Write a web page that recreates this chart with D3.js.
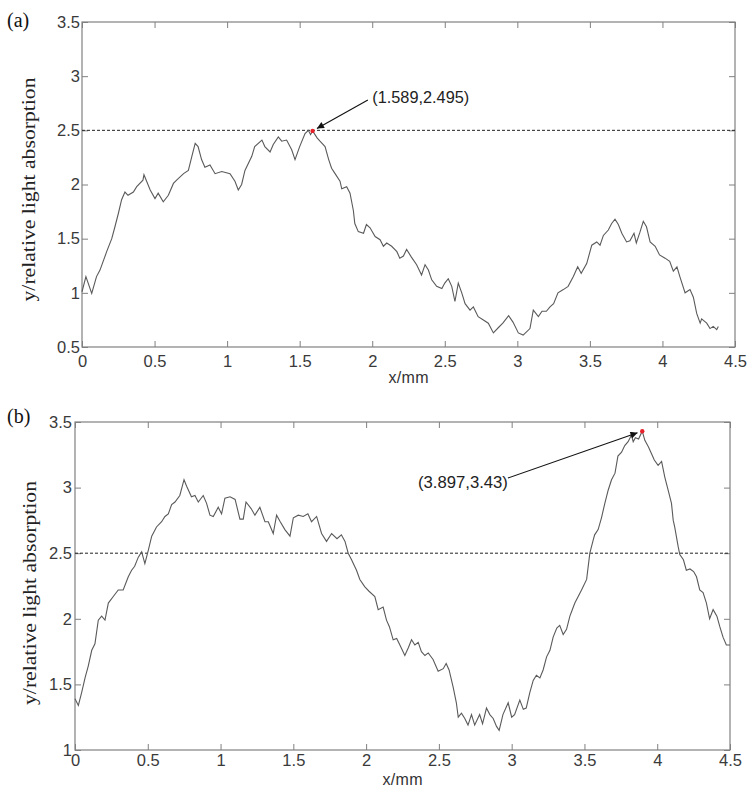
<!DOCTYPE html>
<html>
<head>
<meta charset="utf-8">
<script src="https://cdn.jsdelivr.net/npm/d3@7"></script>
<style>
  body { margin: 0; background: #fff; }
  svg { display: block; }
  .tick text { font-family: "Liberation Sans", Arial, sans-serif; font-size: 16.5px; fill: #3a3a3a; }
</style>
</head>
<body>
<div id="chart-area"></div>
<script>
// DATA
const xA = [0, 0.027, 0.067, 0.10, 0.124, 0.17, 0.205, 0.227, 0.25, 0.273, 0.296, 0.317, 0.354, 0.377, 0.42, 0.427,
  0.47, 0.503, 0.525, 0.56, 0.595, 0.63, 0.652, 0.70, 0.733, 0.757, 0.78, 0.80, 0.824, 0.847, 0.882, 0.917,
  0.963, 1.02, 1.054, 1.077, 1.10, 1.123, 1.17, 1.19, 1.24, 1.26, 1.296, 1.318, 1.353, 1.376, 1.41, 1.445,
  1.468, 1.50, 1.537, 1.56, 1.575, 1.589, 1.62, 1.64, 1.675, 1.70, 1.72, 1.744, 1.778, 1.79, 1.824, 1.847,
  1.87, 1.88, 1.904, 1.94, 1.96, 1.985, 2.02, 2.054, 2.077, 2.10, 2.134, 2.17, 2.19, 2.215, 2.237, 2.27,
  2.306, 2.34, 2.364, 2.387, 2.41, 2.444, 2.48, 2.50, 2.524, 2.548, 2.57, 2.593, 2.617, 2.64, 2.674, 2.697,
  2.73, 2.766, 2.80, 2.835, 2.87, 2.90, 2.94, 2.97, 3.007, 3.04, 3.087, 3.11, 3.145, 3.17, 3.20, 3.225,
  3.25, 3.28, 3.317, 3.35, 3.386, 3.416, 3.44, 3.478, 3.513, 3.547, 3.57, 3.593, 3.627, 3.65, 3.673, 3.696,
  3.72, 3.753, 3.776, 3.804, 3.82, 3.845, 3.868, 3.89, 3.915, 3.95, 3.98, 4.018, 4.05, 4.075, 4.10, 4.12,
  4.156, 4.19, 4.213, 4.236, 4.26, 4.27, 4.305, 4.328, 4.35, 4.374, 4.385]
const yA = [1.01, 1.15, 0.995, 1.15, 1.21, 1.38, 1.50, 1.61, 1.73, 1.86, 1.93, 1.90, 1.93, 1.98, 2.04, 2.09,
  1.95, 1.87, 1.92, 1.84, 1.90, 2.01, 2.04, 2.10, 2.13, 2.26, 2.38, 2.35, 2.23, 2.16, 2.18, 2.10,
  2.12, 2.10, 2.03, 1.95, 2.00, 2.13, 2.26, 2.35, 2.41, 2.35, 2.30, 2.37, 2.44, 2.40, 2.41, 2.32,
  2.23, 2.35, 2.47, 2.50, 2.46, 2.495, 2.43, 2.40, 2.35, 2.23, 2.15, 2.10, 2.03, 1.96, 1.98, 1.92,
  1.76, 1.64, 1.565, 1.55, 1.63, 1.60, 1.52, 1.49, 1.43, 1.46, 1.43, 1.38, 1.32, 1.34, 1.40, 1.33,
  1.26, 1.165, 1.26, 1.21, 1.12, 1.06, 1.04, 1.09, 1.13, 1.06, 0.92, 1.09, 1.00, 0.90, 0.84, 0.87,
  0.78, 0.75, 0.72, 0.63, 0.68, 0.72, 0.79, 0.73, 0.63, 0.61, 0.67, 0.84, 0.78, 0.83, 0.83, 0.87,
  0.90, 1.00, 1.03, 1.06, 1.15, 1.24, 1.18, 1.27, 1.44, 1.47, 1.44, 1.53, 1.58, 1.64, 1.68, 1.63,
  1.55, 1.47, 1.48, 1.55, 1.46, 1.56, 1.66, 1.61, 1.47, 1.43, 1.35, 1.32, 1.29, 1.20, 1.24, 1.15,
  1.00, 1.03, 0.96, 0.81, 0.72, 0.76, 0.72, 0.67, 0.69, 0.66, 0.69]

const xB = [0, 0.023, 0.046, 0.069, 0.091, 0.115, 0.137, 0.16, 0.183, 0.206, 0.229, 0.263, 0.297, 0.331, 0.366, 0.389,
  0.41, 0.435, 0.458, 0.48, 0.503, 0.527, 0.56, 0.595, 0.618, 0.641, 0.664, 0.687, 0.72, 0.749, 0.767, 0.80,
  0.824, 0.847, 0.881, 0.904, 0.927, 0.95, 0.984, 1.007, 1.03, 1.065, 1.10, 1.133, 1.156, 1.175, 1.21, 1.236,
  1.27, 1.305, 1.328, 1.362, 1.385, 1.41, 1.442, 1.477, 1.50, 1.534, 1.568, 1.60, 1.625, 1.66, 1.694, 1.728,
  1.763, 1.80, 1.83, 1.855, 1.877, 1.90, 1.934, 1.957, 1.99, 2.02, 2.06, 2.083, 2.117, 2.14, 2.16, 2.186,
  2.21, 2.232, 2.266, 2.29, 2.312, 2.335, 2.358, 2.38, 2.404, 2.427, 2.46, 2.495, 2.53, 2.55, 2.57, 2.598,
  2.62, 2.633, 2.655, 2.678, 2.70, 2.724, 2.746, 2.78, 2.80, 2.827, 2.85, 2.873, 2.896, 2.914, 2.94, 2.976,
  3.0, 3.02, 3.056, 3.08, 3.10, 3.125, 3.148, 3.17, 3.194, 3.216, 3.24, 3.263, 3.285, 3.31, 3.33, 3.354,
  3.377, 3.40, 3.41, 3.434, 3.457, 3.48, 3.515, 3.537, 3.56, 3.57, 3.594, 3.617, 3.64, 3.663, 3.686, 3.71,
  3.73, 3.755, 3.777, 3.80, 3.823, 3.835, 3.85, 3.872, 3.897, 3.915, 3.94, 3.96, 3.98, 4.006, 4.03, 4.052,
  4.075, 4.098, 4.11, 4.12, 4.144, 4.155, 4.18, 4.20, 4.225, 4.25, 4.27, 4.292, 4.315, 4.338, 4.36, 4.384,
  4.41, 4.43, 4.452, 4.475, 4.5]
const yB = [1.39, 1.34, 1.44, 1.55, 1.64, 1.76, 1.81, 1.99, 2.02, 1.99, 2.12, 2.17, 2.22, 2.22, 2.32, 2.37,
  2.40, 2.47, 2.51, 2.42, 2.52, 2.63, 2.70, 2.74, 2.78, 2.80, 2.87, 2.89, 2.94, 3.06, 3.01, 2.93,
  2.94, 2.89, 2.94, 2.88, 2.79, 2.78, 2.85, 2.80, 2.92, 2.93, 2.91, 2.76, 2.76, 2.89, 2.84, 2.79,
  2.85, 2.74, 2.74, 2.65, 2.79, 2.74, 2.68, 2.63, 2.77, 2.79, 2.78, 2.80, 2.74, 2.78, 2.65, 2.59,
  2.65, 2.61, 2.64, 2.59, 2.50, 2.45, 2.37, 2.30, 2.245, 2.21, 2.17, 2.07, 2.09, 1.99, 1.94, 1.84,
  1.85, 1.80, 1.72, 1.78, 1.84, 1.80, 1.82, 1.75, 1.72, 1.74, 1.69, 1.60, 1.62, 1.66, 1.61, 1.48,
  1.36, 1.25, 1.28, 1.24, 1.19, 1.27, 1.19, 1.27, 1.20, 1.32, 1.27, 1.24, 1.18, 1.15, 1.27, 1.36,
  1.25, 1.27, 1.38, 1.31, 1.32, 1.44, 1.53, 1.57, 1.55, 1.61, 1.71, 1.76, 1.86, 1.93, 1.95, 1.88,
  1.92, 2.02, 2.05, 2.12, 2.17, 2.22, 2.30, 2.50, 2.60, 2.64, 2.68, 2.77, 2.88, 2.98, 3.06, 3.11,
  3.24, 3.27, 3.32, 3.35, 3.40, 3.35, 3.38, 3.37, 3.43, 3.36, 3.31, 3.26, 3.21, 3.17, 3.20, 3.08,
  2.98, 2.88, 2.75, 2.70, 2.55, 2.49, 2.45, 2.37, 2.38, 2.36, 2.32, 2.22, 2.20, 2.12, 2.00, 2.07,
  2.02, 1.94, 1.86, 1.80, 1.80]

const xTicks = [0, 0.5, 1, 1.5, 2, 2.5, 3, 3.5, 4, 4.5]
const yTicksA = [0.5, 1, 1.5, 2, 2.5, 3, 3.5]
const yTicksB = [1, 1.5, 2, 2.5, 3, 3.5]
const threshold = 2.5
const peakA = [1.589, 2.495]
const peakB = [3.897, 3.43]
const noteA = "(1.589,2.495)"
const noteB = "(3.897,3.43)"

const WIDTH = 754
const HEIGHT = 794

const svg = d3.select("#chart-area").append("svg")
  .attr("width", WIDTH)
  .attr("height", HEIGHT)

svg.append("defs").append("marker")
  .attr("id", "arrow")
  .attr("viewBox", "0 0 10 10")
  .attr("refX", 10).attr("refY", 5)
  .attr("markerWidth", 10).attr("markerHeight", 7)
  .attr("markerUnits", "userSpaceOnUse")
  .attr("orient", "auto")
  .append("path").attr("d", "M0,0 L10,5 L0,10 Z").attr("fill", "#111")

const panels = [
  { tag: "(a)", tagY: 27, left: 82, right: 735, top: 22, bottom: 347, yDomain: [0.5, 3.5], yTicks: yTicksA,
    xs: xA, ys: yA, peak: peakA, note: noteA, notePos: [2.0, 2.75], arrowFrom: [1.97, 2.78], noteWidth: 97,
    xPad: 8, yPad: 2, yLabelX: 35, yLabelShift: 5, xLabelY: 383 },
  { tag: "(b)", tagY: 423, left: 75, right: 730, top: 422, bottom: 750, yDomain: [1, 3.5], yTicks: yTicksB,
    xs: xB, ys: yB, peak: peakB, note: noteB, notePos: [2.356, 3.0], arrowFrom: [2.974, 3.073], noteWidth: 90,
    xPad: 4, yPad: 3, yLabelX: 36, yLabelShift: 7, xLabelY: 785 }
]

panels.forEach(p => {
  const w = p.right - p.left
  const h = p.bottom - p.top
  const g = svg.append("g").attr("transform", `translate(${p.left}, ${p.top})`)

  const xScale = d3.scaleLinear().domain([0, 4.5]).range([0, w])
  const yScale = d3.scaleLinear().domain(p.yDomain).range([h, 0])

  //AXES (MATLAB style: ticks inside, box on)
  const fmt = d => String(d)
  g.append("g").attr("transform", `translate(0, ${h})`)
    .call(d3.axisBottom(xScale).tickValues(xTicks).tickFormat(fmt).tickSizeInner(-6).tickSizeOuter(0).tickPadding(p.xPad))
  g.append("g")
    .call(d3.axisTop(xScale).tickValues(xTicks).tickFormat("").tickSizeInner(-6).tickSizeOuter(0))
  g.append("g")
    .call(d3.axisLeft(yScale).tickValues(p.yTicks).tickFormat(fmt).tickSizeInner(-6).tickSizeOuter(0).tickPadding(p.yPad))
  g.append("g").attr("transform", `translate(${w}, 0)`)
    .call(d3.axisRight(yScale).tickValues(p.yTicks).tickFormat("").tickSizeInner(-6).tickSizeOuter(0))
  g.selectAll(".domain").remove()
  g.selectAll(".tick line").attr("stroke", "#808080")

  g.append("rect")
    .attr("width", w).attr("height", h)
    .attr("fill", "none").attr("stroke", "#808080").attr("stroke-width", 1.2)

  //THRESHOLD
  g.append("line")
    .attr("x1", 0).attr("x2", w)
    .attr("y1", yScale(threshold)).attr("y2", yScale(threshold))
    .attr("stroke", "#222").attr("stroke-width", 1).attr("stroke-dasharray", "3,2")

  //CURVE
  const line = d3.line().x(i => xScale(p.xs[i])).y(i => yScale(p.ys[i]))
  g.append("path")
    .attr("d", line(d3.range(p.xs.length)))
    .attr("fill", "none").attr("stroke", "#5a5a5a").attr("stroke-width", 1.1)

  //PEAK + ANNOTATION
  const px = xScale(p.peak[0]), py = yScale(p.peak[1])
  const ax = xScale(p.arrowFrom[0]), ay = yScale(p.arrowFrom[1])
  const ang = Math.atan2(py - ay, px - ax)
  g.append("line")
    .attr("x1", ax).attr("y1", ay)
    .attr("x2", px - 5 * Math.cos(ang)).attr("y2", py - 5 * Math.sin(ang))
    .attr("stroke", "#111").attr("stroke-width", 1.1)
    .attr("marker-end", "url(#arrow)")
  g.append("circle").attr("cx", px).attr("cy", py).attr("r", 2.2).attr("fill", "#e8202a")
  g.append("text")
    .attr("x", xScale(p.notePos[0])).attr("y", yScale(p.notePos[1]))
    .attr("font-family", "Liberation Sans, Arial, sans-serif").attr("font-size", 16.5)
    .attr("fill", "#222")
    .attr("textLength", p.noteWidth).attr("lengthAdjust", "spacingAndGlyphs")
    .text(p.note)

  //LABELS
  svg.append("text")
    .attr("transform", `translate(${p.yLabelX}, ${p.top + h / 2 + p.yLabelShift}) rotate(-90)`)
    .attr("text-anchor", "middle")
    .attr("font-family", "Liberation Serif, Times New Roman, serif").attr("font-size", 19)
    .attr("fill", "#222")
    .attr("textLength", 224).attr("lengthAdjust", "spacingAndGlyphs")
    .text("y/relative light absorption")
  svg.append("text")
    .attr("x", p.left + w / 2).attr("y", p.xLabelY)
    .attr("text-anchor", "middle")
    .attr("font-family", "Liberation Sans, Arial, sans-serif").attr("font-size", 16)
    .attr("fill", "#333")
    .attr("textLength", 40).attr("lengthAdjust", "spacing")
    .text("x/mm")
  svg.append("text")
    .attr("x", 7).attr("y", p.tagY)
    .attr("font-family", "Liberation Serif, Times New Roman, serif").attr("font-size", 20)
    .attr("fill", "#111")
    .text(p.tag)
})
</script>
</body>
</html>
